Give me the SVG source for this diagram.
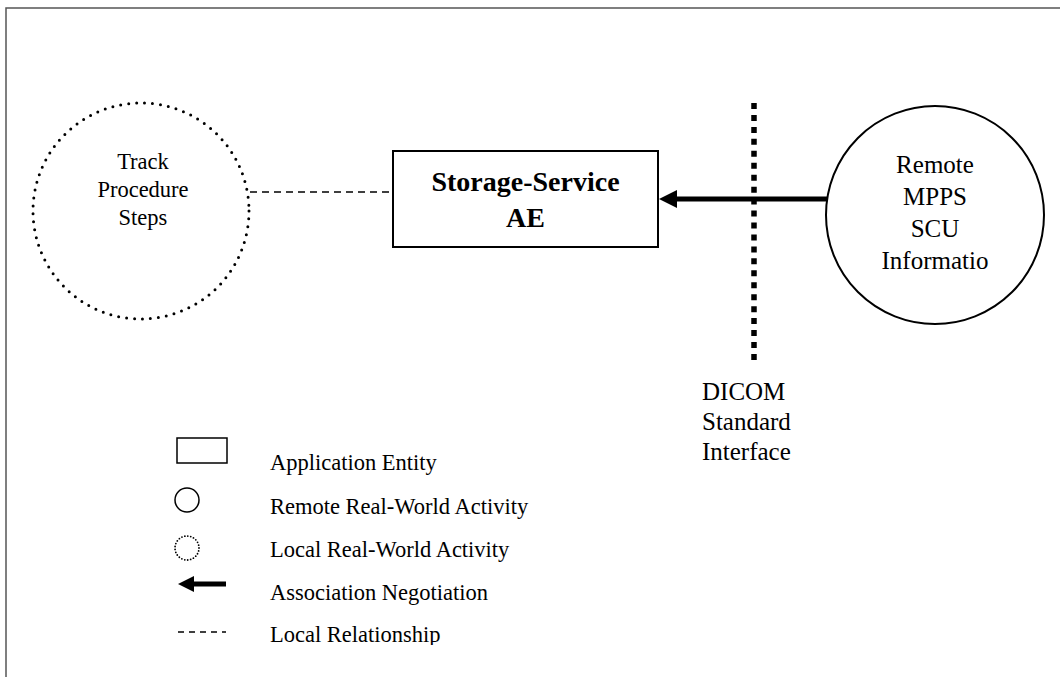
<svg xmlns="http://www.w3.org/2000/svg" width="1060" height="677" viewBox="0 0 1060 677">
<style>
.t{font-family:"Liberation Serif","Times New Roman",serif;fill:#000}
.c{text-anchor:middle}
.ln{fill:none;stroke:#000}
</style>
<defs>
<clipPath id="legclip"><rect x="0" y="0" width="1060" height="645"/></clipPath>
</defs>
<rect width="1060" height="677" fill="#fff"/>
<path d="M6,677 V8 H1060" fill="none" stroke="#555" stroke-width="1.5"/>

<g id="interface">
<line x1="754" y1="103" x2="754" y2="360" stroke="#000" stroke-width="5.5" stroke-dasharray="6 5.95"/>
<text class="t" x="702" y="400" font-size="25">DICOM</text>
<text class="t" x="702" y="430" font-size="25">Standard</text>
<text class="t" x="702" y="460" font-size="25">Interface</text>
</g>

<g id="connectors">
<line class="ln" x1="250" y1="192" x2="392" y2="192" stroke-width="1.5" stroke-dasharray="7 5"/>
<line class="ln" x1="827" y1="199" x2="677" y2="199" stroke-width="5"/>
<path d="M659,199 L677,190 L677,208 z" fill="#000"/>
</g>

<g id="track">
<circle cx="141" cy="211" r="108" fill="none" stroke="#000" stroke-width="3" stroke-linecap="round" stroke-dasharray="0 8"/>
<text class="t c" x="143" y="169" font-size="22.5">Track</text>
<text class="t c" x="143" y="197" font-size="22.5">Procedure</text>
<text class="t c" x="143" y="225" font-size="22.5">Steps</text>
</g>

<g id="storage">
<rect x="393" y="151" width="265" height="96" fill="#fff" stroke="#000" stroke-width="2"/>
<text class="t c" x="525.5" y="191" font-size="28" font-weight="bold">Storage-Service</text>
<text class="t c" x="525.5" y="227" font-size="28" font-weight="bold">AE</text>
</g>

<g id="remote">
<circle cx="935" cy="215" r="109" fill="#fff" stroke="#000" stroke-width="2"/>
<text class="t c" x="935" y="173" font-size="25">Remote</text>
<text class="t c" x="935" y="205" font-size="25">MPPS</text>
<text class="t c" x="935" y="237" font-size="25">SCU</text>
<text class="t c" x="935" y="269" font-size="25">Informatio</text>
</g>

<g id="legend">
<rect x="177" y="438" width="50" height="25" fill="#fff" stroke="#000" stroke-width="1.5"/>
<circle cx="187" cy="500" r="12" fill="none" stroke="#000" stroke-width="1.5"/>
<circle cx="187" cy="548" r="12" fill="none" stroke="#000" stroke-width="1.8" stroke-linecap="round" stroke-dasharray="0 3"/>
<line class="ln" x1="226" y1="584" x2="193" y2="584" stroke-width="5"/>
<path d="M178,584 L194,576 L194,592 z" fill="#000"/>
<line class="ln" x1="178" y1="632" x2="226" y2="632" stroke-width="1.5" stroke-dasharray="6 5"/>
<g clip-path="url(#legclip)">
<text class="t" x="270" y="470" font-size="22.5">Application Entity</text>
<text class="t" x="270" y="514" font-size="22.5">Remote Real-World Activity</text>
<text class="t" x="270" y="557" font-size="22.5">Local Real-World Activity</text>
<text class="t" x="270" y="600" font-size="22.5">Association Negotiation</text>
<text class="t" x="270" y="642" font-size="22.5">Local Relationship</text>
</g>
</g>
</svg>
